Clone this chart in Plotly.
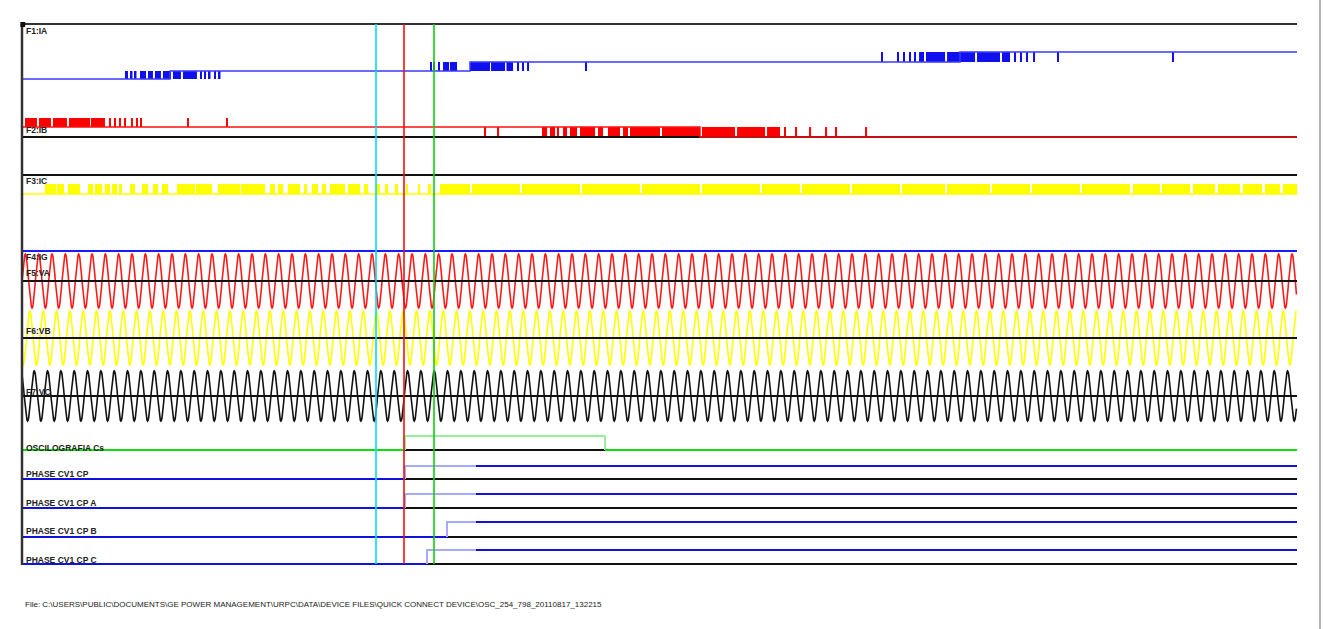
import numpy as np
import plotly.graph_objects as go

# ---------------- record timing (ms, trigger = 0) ----------------
T_START = -477.5
T_END = 1116.25
PERIOD_MS = 1000.0 / 60.0
CYCLE_SAMPLES = 24

CURSOR_MS = [-35.0, 0.0, 37.5]
CURSOR_COLORS = ["#00dcf0", "#ee1111", "#11cc11"]

# ---------------- analog voltages (per unit) ----------------
CYCLE_SHAPE = [0.0, 0.259, 0.5, 0.707, 0.866, 0.966, 1.0, 0.966, 0.866, 0.707, 0.5, 0.259,
               0.0, -0.259, -0.5, -0.707, -0.866, -0.966, -1.0, -0.966, -0.866, -0.707, -0.5, -0.259]
VA_PEAK = 1.0
VB_PEAK = 1.0
VC_PEAK = 0.93
VB_LAG_SAMPLES = 8
VC_LAG_SAMPLES = 16

# ---------------- F1 (staircase with chatter) ----------------
IA_STEP_MS = [-292.5, 82.5, 695.0]
IA_LEVELS = [0.0, 0.8, 1.7, 2.7]
IA_CHATTER_1 = [(-348.8, -345.0), (-341.3, -339.4), (-336.3, -334.4), (-330.0, -322.5),
                (-320.0, -313.8), (-311.3, -303.8), (-301.3, -291.3), (-288.8, -278.8),
                (-276.3, -258.8), (-255.0, -253.1), (-250.0, -248.1), (-243.8, -241.9),
                (-237.5, -235.6), (-231.3, -229.4)]
IA_CHATTER_2 = [(32.5, 34.4), (36.3, 38.1), (42.5, 44.4), (48.8, 56.3), (57.5, 66.3),
                (82.5, 107.5), (108.8, 126.3), (128.1, 136.3), (141.3, 143.1),
                (147.5, 149.4), (153.8, 156.3), (226.3, 228.1)]
IA_CHATTER_3 = [(596.3, 598.1), (616.3, 618.1), (623.8, 625.6), (631.3, 633.1),
                (637.5, 640.0), (643.8, 650.0), (652.5, 676.3), (678.8, 713.8),
                (716.3, 745.0), (747.5, 757.5), (762.5, 764.4), (770.0, 771.9),
                (777.5, 780.0), (786.3, 788.8), (816.3, 818.1), (960.0, 961.9)]

# ---------------- F2 ----------------
IB_STEP_MS = [370.0]
IB_LEVELS = [1.0, 0.0]
IB_CHATTER_1_SPAN = (1.0, 1.9)
IB_CHATTER_1 = [(-473.8, -458.8), (-456.3, -441.3), (-438.8, -421.3), (-418.8, -392.5),
                (-391.3, -373.8), (-368.8, -366.3), (-362.5, -360.0), (-356.3, -353.8),
                (-350.0, -347.5), (-341.3, -338.8), (-335.0, -332.5), (-330.0, -327.5),
                (-270.6, -268.8), (-221.9, -220.0)]
IB_CHATTER_2_SPAN = (0.0, 1.0)
IB_CHATTER_2 = [(100.0, 102.5), (116.3, 118.8), (172.5, 178.8), (182.5, 188.8),
                (191.9, 193.8), (198.8, 203.8), (207.5, 216.3), (220.0, 238.8),
                (242.5, 248.8), (255.0, 270.0), (273.8, 280.0), (282.5, 320.0),
                (322.5, 370.0), (372.5, 413.8), (416.3, 451.3), (453.8, 470.0),
                (475.0, 477.5), (488.8, 491.3), (506.3, 508.8), (526.3, 528.8),
                (538.8, 541.3), (576.3, 578.8)]

# ---------------- F3 ----------------
IC_CHATTER_SPAN = (0.0, 1.0)
IC_CHATTER = [(-448.8, -435.0), (-433.8, -425.0), (-420.0, -405.0), (-395.0, -388.8),
              (-386.3, -377.5), (-373.8, -367.5), (-365.0, -358.8), (-356.3, -352.5),
              (-342.5, -336.3), (-327.5, -320.0), (-313.8, -307.5), (-302.5, -295.0),
              (-283.8, -261.3), (-260.0, -240.0), (-232.5, -205.0), (-203.8, -173.8),
              (-167.5, -161.3), (-157.5, -151.3), (-145.0, -130.0), (-125.0, -121.3),
              (-115.0, -107.5), (-102.5, -97.5), (-92.5, -73.8), (-70.0, -55.0),
              (-50.0, -45.0), (-35.0, -30.0), (-23.8, -20.0), (-11.3, -7.5),
              (2.5, 5.0), (17.5, 20.0), (30.0, 33.8), (45.0, 82.5), (85.0, 145.0),
              (147.5, 220.0), (222.5, 295.0), (297.5, 370.0), (372.5, 445.0),
              (447.5, 495.0), (497.5, 557.5), (560.0, 620.0), (622.5, 676.3),
              (678.8, 732.5), (735.0, 782.5), (785.0, 845.0), (847.5, 907.5),
              (911.3, 945.0), (947.5, 982.5), (986.3, 1013.8), (1017.5, 1045.0),
              (1048.8, 1072.5), (1076.3, 1095.0), (1098.8, 1116.3)]

# ---------------- digital channels ----------------
DIGITAL_NAMES = ["OSCILOGRAFIA Cs", "PHASE CV1 CP", "PHASE CV1 CP A", "PHASE CV1 CP B", "PHASE CV1 CP C"]
DIGITAL_RISE_MS = [1.25, 1.25, 1.25, 53.75, 28.75]
DIGITAL_FALL_MS = [251.25, None, None, None, None]
DIGITAL_SETTLE_MS = 90.0

ANALOG_NAMES = ["F1:IA", "F2:IB", "F3:IC", "F4:IG", "F5:VA", "F6:VB", "F7:VC"]
FILE_PATH = ("File: C:\\USERS\\PUBLIC\\DOCUMENTS\\GE POWER MANAGEMENT\\URPC\\DATA\\"
             "DEVICE FILES\\QUICK CONNECT DEVICE\\OSC_254_798_20110817_132215")

# ---------------- page geometry ----------------
W, H = 1323, 629
PLOT_LEFT, PLOT_RIGHT = 20, 1300
PLOT_TOP, PLOT_BOTTOM = 20, 570
PLOT_H = PLOT_BOTTOM - PLOT_TOP
PLOT_W = PLOT_RIGHT - PLOT_LEFT
MS_PER_PX = 1.25
TRIGGER_PX = 404
X_RANGE = [(PLOT_LEFT - TRIGGER_PX) * MS_PER_PX, (PLOT_RIGHT - TRIGGER_PX) * MS_PER_PX]

# track baseline (px from top) and gain (px per unit) for each channel axis
TRACKS = {
    "ia": (79, 10), "ib": (137, 10), "ic": (194, 10), "ig": (251, 10),
    "va": (281, 27), "vb": (338, 27), "vc": (396, 27),
    "d0": (450, 14), "d1": (479, 13), "d2": (508, 14), "d3": (537, 15), "d4": (564, 14),
}
AXIS = {}
layout_axes = {}
for i, (key, (base, gain)) in enumerate(TRACKS.items()):
    ref = "y" if i == 0 else f"y{i + 1}"
    lname = "yaxis" if i == 0 else f"yaxis{i + 1}"
    AXIS[key] = ref
    ax = dict(domain=[0, 1], range=[-(PLOT_BOTTOM - base) / gain, (base - PLOT_TOP) / gain],
              visible=False, fixedrange=True, anchor="x")
    if i > 0:
        ax["overlaying"] = "y"
    layout_axes[lname] = ax


def ypaper(px):
    return (PLOT_BOTTOM - px) / PLOT_H


def xpaper(px):
    return (px - PLOT_LEFT) / PLOT_W


fig = go.Figure()


def add_line(key, x, y, color, width, shape="linear"):
    fig.add_trace(go.Scatter(x=x, y=y, mode="lines", yaxis=AXIS[key],
                             line=dict(color=color, width=width, shape=shape),
                             hoverinfo="skip", showlegend=False))


def add_chatter(key, intervals, lo, hi, color):
    a = np.array(intervals, dtype=float)
    n = len(a)
    fig.add_trace(go.Bar(x=a.mean(axis=1), width=a[:, 1] - a[:, 0], base=[lo] * n, y=[hi - lo] * n,
                         yaxis=AXIS[key], marker=dict(color=color, line=dict(width=0)),
                         hoverinfo="skip", showlegend=False))


BLACK = "#111111"
BLUE = "#1a1aff"

# F1 staircase
add_line("ia", [T_START] + IA_STEP_MS + [T_END], IA_LEVELS + [IA_LEVELS[-1]], "#3a3aff", 1.5, "hv")
for k, burst in enumerate([IA_CHATTER_1, IA_CHATTER_2, IA_CHATTER_3]):
    add_chatter("ia", burst, IA_LEVELS[k], IA_LEVELS[k + 1], "#1010ee")

# F2
add_line("ib", [T_START, T_END], [0, 0], BLACK, 2)
add_line("ib", [T_START] + IB_STEP_MS + [T_END], IB_LEVELS + [IB_LEVELS[-1]], "#ff1010", 1.5, "hv")
add_chatter("ib", IB_CHATTER_1, IB_CHATTER_1_SPAN[0], IB_CHATTER_1_SPAN[1], "#ff0000")
add_chatter("ib", IB_CHATTER_2, IB_CHATTER_2_SPAN[0], IB_CHATTER_2_SPAN[1], "#ff0000")

# F3
add_line("ic", [T_START, T_END], [0, 0], "#ffff00", 1.5)
add_chatter("ic", IC_CHATTER, IC_CHATTER_SPAN[0], IC_CHATTER_SPAN[1], "#ffff00")

# F4
add_line("ig", [T_START, T_END], [0, 0], BLUE, 2)

# three-phase voltages
n_cycles = int(np.ceil((T_END - T_START) / PERIOD_MS))
t = T_START + np.arange(n_cycles * CYCLE_SAMPLES + 1) * (PERIOD_MS / CYCLE_SAMPLES)
t = t[t <= T_END]
shape = np.array(CYCLE_SHAPE)
va = np.tile(shape, n_cycles + 1)[:len(t)] * VA_PEAK
vb = np.tile(np.roll(shape, VB_LAG_SAMPLES), n_cycles + 1)[:len(t)] * VB_PEAK
vc = np.tile(np.roll(shape, VC_LAG_SAMPLES), n_cycles + 1)[:len(t)] * VC_PEAK
add_line("va", t, va, "#ff1a1a", 1.6)
add_line("vb", t, vb, "#ffff00", 1.6)
add_line("vc", t, vc, "#111111", 1.6)
for key in ["va", "vb", "vc"]:
    add_line(key, [T_START, T_END], [0, 0], BLACK, 2)

# digital channels
for i, (rise, fall) in enumerate(zip(DIGITAL_RISE_MS, DIGITAL_FALL_MS)):
    key = f"d{i}"
    if i == 0:
        low_c, high_c, fade_c = "#11dd11", "#99ee99", "#99ee99"
    else:
        low_c, high_c, fade_c = "#1111dd", "#1111dd", "#a8a8ff"
    end = fall if fall is not None else T_END
    settle = min(DIGITAL_SETTLE_MS if i else end, end)
    add_line(key, [T_START, rise], [0, 0], low_c, 2)
    add_line(key, [rise, end], [0, 0], BLACK, 2)
    add_line(key, [rise, rise, settle], [0, 1, 1], fade_c, 2)
    if settle < end:
        add_line(key, [settle, end], [1, 1], high_c, 2)
    if fall is not None:
        add_line(key, [fall, fall], [1, 0], fade_c, 2)
        add_line(key, [fall, T_END], [0, 0], low_c, 2)

# frame, separators and cursors
shapes = [
    dict(type="line", xref="x", yref="paper", x0=T_START, x1=T_END, y0=ypaper(24), y1=ypaper(24),
         line=dict(color="#333333", width=2)),
    dict(type="line", xref="x", yref="paper", x0=T_START, x1=T_END, y0=ypaper(175), y1=ypaper(175),
         line=dict(color=BLACK, width=2)),
    dict(type="line", xref="x", yref="paper", x0=T_START, x1=T_START, y0=ypaper(23), y1=ypaper(565),
         line=dict(color="#333333", width=2.5)),
    dict(type="rect", xref="x", yref="paper", x0=T_START - 2, x1=T_START + 4, y0=ypaper(27), y1=ypaper(22),
         fillcolor="#111111", line=dict(width=0)),
    dict(type="line", xref="paper", yref="paper", x0=xpaper(1320), x1=xpaper(1320), y0=ypaper(0), y1=ypaper(629),
         line=dict(color="#666666", width=1)),
]
for cx, cc in zip(CURSOR_MS, CURSOR_COLORS):
    shapes.append(dict(type="line", xref="x", yref="paper", x0=cx, x1=cx, y0=ypaper(24), y1=ypaper(564),
                       line=dict(color=cc, width=1.6), layer="above"))

# channel labels
LABEL_Y = [31, 130, 181, 257, 273, 331, 392, 448, 474, 503, 531, 560]
LABELS = ANALOG_NAMES + DIGITAL_NAMES
annotations = []
for name, ly in zip(LABELS, LABEL_Y):
    annotations.append(dict(text=f"<b>{name}</b>", xref="paper", yref="paper", x=xpaper(25), y=ypaper(ly),
                            xanchor="left", yanchor="middle", showarrow=False, borderpad=0,
                            font=dict(family="Liberation Sans, Arial", size=8.5, color="#222222")))
annotations.append(dict(text=FILE_PATH, xref="paper", yref="paper", x=xpaper(24), y=ypaper(604),
                        xanchor="left", yanchor="middle", showarrow=False, borderpad=0,
                        font=dict(family="Liberation Sans, Arial", size=8, color="#222222")))

fig.update_layout(
    width=W, height=H,
    margin=dict(l=PLOT_LEFT, r=W - PLOT_RIGHT, t=PLOT_TOP, b=H - PLOT_BOTTOM, pad=0),
    paper_bgcolor="white", plot_bgcolor="white",
    xaxis=dict(range=X_RANGE, visible=False, fixedrange=True),
    barmode="overlay", showlegend=False,
    shapes=shapes, annotations=annotations,
    **layout_axes,
)

fig.write_html("out.html")
